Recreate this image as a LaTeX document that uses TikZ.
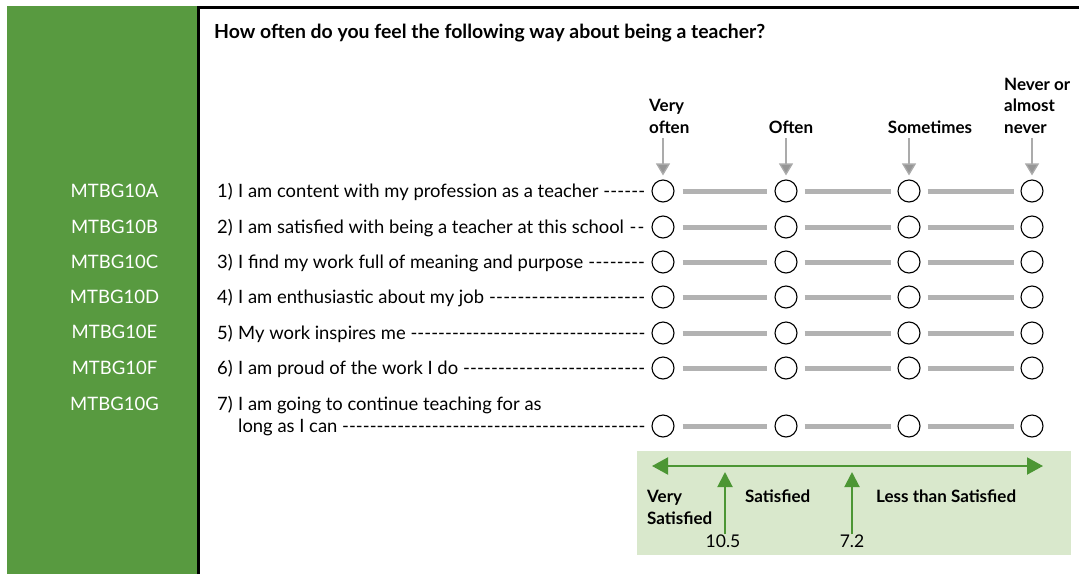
\documentclass[tikz,border=0pt]{standalone}
\usepackage{fontspec}
\setmainfont{Lato}
\usetikzlibrary{arrows.meta}
\definecolor{panelgreen}{RGB}{88,154,64}
\definecolor{boxgreen}{RGB}{217,232,204}
\definecolor{arrowgreen}{RGB}{76,150,52}
\definecolor{bargray}{RGB}{178,178,178}
\definecolor{headgray}{RGB}{150,150,150}
\begin{document}
\begin{tikzpicture}[x=1pt,y=-1pt,
  every node/.style={font=\fontsize{18.4}{21.5}\selectfont, inner sep=0pt},
  code/.style={text=white, anchor=base, font=\fontsize{18.5}{21.5}\selectfont},
  item/.style={anchor=base west},
  hdr/.style={font=\fontsize{17}{21.5}\selectfont\bfseries, align=left, anchor=base west},
  circ/.style={circle, draw=black, line width=1.1pt, minimum size=22pt},
  bar/.style={draw=bargray, line width=5pt},
  garrow/.style={draw=headgray!80, line width=1.3pt, -{Triangle[width=14pt,length=12pt,fill=headgray]}},
  grarrow/.style={draw=arrowgreen, line width=2pt},
  lbl/.style={font=\fontsize{17}{21.5}\selectfont\bfseries, align=left}
]
\useasboundingbox (0,0) rectangle (1079,574);
\fill[panelgreen] (7,6) rectangle (197,574);
\draw[line width=3pt] (198.5,574) -- (198.5,7.5) -- (1079,7.5);

\node[hdr, font=\fontsize{19.4}{21.5}\selectfont\bfseries] (title) at (214,38) {How often do you feel the following way about being a teacher?};

% codes
\foreach \n/\y in {A/191,B/227,C/262,D/297,E/332,F/368,G/404}
  \node[code] (code\n) at (114.5,\y+6.5) {MTBG10\n};

% items
\newcommand{\itemline}[2]{\makebox[428pt][l]{\makebox[21pt][l]{#1}#2\ \xleaders\hbox{-}\hfill\kern0pt}}
\node[item] (t1) at (217,197) {\itemline{1)}{I am content with my profession as a teacher}};
\node[item] (t2) at (217,233) {\itemline{2)}{I am satisfied with being a teacher at this school}};
\node[item] (t3) at (217,268) {\itemline{3)}{I find my work full of meaning and purpose}};
\node[item] (t4) at (217,303) {\itemline{4)}{I am enthusiastic about my job}};
\node[item] (t5) at (217,339) {\itemline{5)}{My work inspires me}};
\node[item] (t6) at (217,374) {\itemline{6)}{I am proud of the work I do}};
\node[item] (t7a) at (217,410) {\makebox[21pt][l]{7)}I am going to continue teaching for as};
\node[item] (t7b) at (238,432) {\makebox[407pt][l]{long as I can\ \xleaders\hbox{-}\hfill\kern0pt}};

% circles and bars
\foreach \r/\y in {1/191,2/227,3/262,4/297,5/333,6/368,7/426} {
  \foreach \c/\x in {1/663,2/786,3/909,4/1032}
    \node[circ] (c\r\c) at (\x,\y) {};
  \draw[bar] ([xshift=8pt]c\r1.east) -- ([xshift=-7pt]c\r2.west);
  \draw[bar] ([xshift=7pt]c\r2.east) -- ([xshift=-6pt]c\r3.west);
  \draw[bar] ([xshift=7pt]c\r3.east) -- ([xshift=-6pt]c\r4.west);
}

% headers
\node[hdr] (h1) at (649,133) {Very\\often};
\node[hdr, anchor=base] (h2) at (791,133) {Often};
\node[hdr, anchor=base] (h3) at (930,133) {Sometimes};
\node[hdr] (h4) at (1004,133) {Never or\\almost\\never};
\foreach \c/\x in {1/663,2/786,3/909,4/1032} {
  \coordinate (ha\c) at (\x,138);
  \draw[garrow] (ha\c) -- ([yshift=4pt]c1\c.north);
}

% scale box
\fill[boxgreen] (637,451) rectangle (1071,555);
\coordinate (L) at (652,466);
\coordinate (R) at (1043,466);
\draw[grarrow, {Triangle[width=17pt,length=16pt]}-{Triangle[width=17pt,length=16pt]}] (L) -- (R);
\node[anchor=north, font=\fontsize{17.5}{21.5}\selectfont] (v1) at (723,535) {10.5};
\node[anchor=north, font=\fontsize{17.5}{21.5}\selectfont] (v2) at (852,535) {7.2};
\coordinate (u1) at (725,472);
\coordinate (u2) at (852,472);
\draw[grarrow, -{Triangle[width=15pt,length=15pt]}] ([xshift=2pt,yshift=1pt]v1.north) -- (u1);
\draw[grarrow, -{Triangle[width=15pt,length=15pt]}] ([yshift=1pt]v2.north) -- (u2);
\node[lbl, anchor=north west] (s1) at (647,490) {Very\\Satisfied};
\node[lbl, anchor=north west] (s2) at (745,490) {Satisfied};
\node[lbl, anchor=north west] (s3) at (876,490) {Less than Satisfied};
\end{tikzpicture}
\end{document}
